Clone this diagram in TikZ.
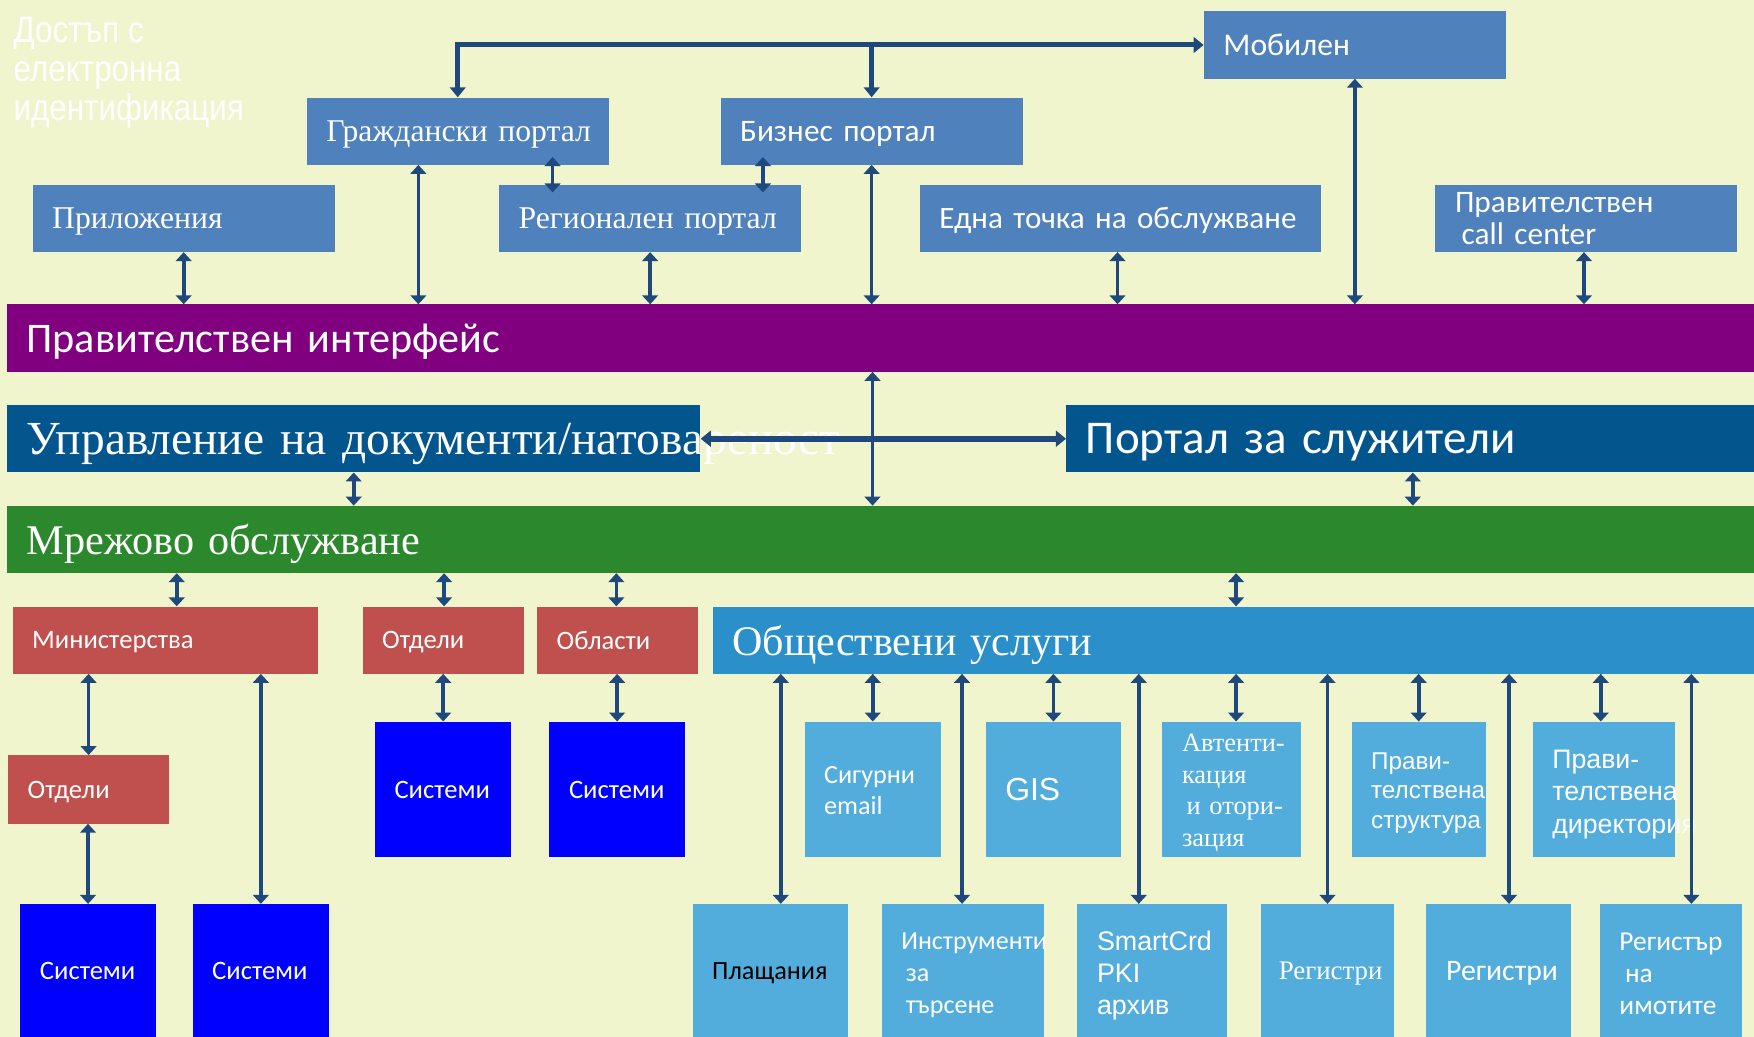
\documentclass[tikz,border=0pt]{standalone}
\usepackage{fontspec}
\setmainfont{Liberation Serif}
\newfontfamily\calibri{Carlito}
\newfontfamily\arialfont{Liberation Sans}
\newfontfamily\narrowfont[FakeStretch=0.85]{Liberation Sans}
\usetikzlibrary{arrows.meta}

\definecolor{bgyellow}{HTML}{F0F5CD}
\definecolor{boxblue}{HTML}{4F81BD}
\definecolor{ifacepurple}{HTML}{800080}
\definecolor{docblue}{HTML}{03558E}
\definecolor{netgreen}{HTML}{2C882C}
\definecolor{boxred}{HTML}{C0504D}
\definecolor{sysblue}{HTML}{0000FF}
\definecolor{pubblue}{HTML}{2B90C9}
\definecolor{lightblue}{HTML}{53ADDC}
\definecolor{linkblue}{HTML}{1F497D}

\tikzset{
  blk/.style={rectangle, anchor=north west, inner xsep=17.5pt, inner ysep=0pt, text depth=0pt, text=white, align=left},
  multi/.style={text depth=, text height=#1},
  smalltip/.tip={Triangle[length=8pt,width=14pt]},
  bigtip/.tip={Triangle[length=9pt,width=14pt]},
  link/.style={draw=linkblue, line width=3.3pt, {smalltip}-{smalltip}},
  bus/.style={draw=linkblue, line width=4.5pt}
}

\begin{document}
\begin{tikzpicture}[x=1pt,y=-1pt]
%Background
\fill[bgyellow] (0,0) rectangle (1568,927);
\useasboundingbox (0,0) rectangle (1568,927);

%Title
\node[anchor=north west, inner sep=0pt, text=white, align=left, font=\narrowfont\fontsize{33}{35}\selectfont] (title) at (12,15) {Достъп с\\електронна\\идентификация};

%Top portals
\node[blk, fill=boxblue, text width=235pt, minimum height=60pt, font=\calibri\fontsize{28.3}{32}\selectfont] (mob) at (1076,10) {Мобилен};
\node[blk, fill=boxblue, text width=235pt, minimum height=60pt, font=\fontsize{28.3}{32}\selectfont] (grazh) at (274,87) {\mbox{Граждански портал}};
\node[blk, fill=boxblue, text width=235pt, minimum height=60pt, font=\calibri\fontsize{28}{32}\selectfont] (biz) at (644,87) {Бизнес портал};
\node[blk, fill=boxblue, text width=235pt, minimum height=60pt, font=\fontsize{28.3}{32}\selectfont] (app) at (29,165) {Приложения};
\node[blk, fill=boxblue, text width=235pt, minimum height=60pt, font=\fontsize{28.3}{32}\selectfont] (reg) at (446,165) {\mbox{Регионален портал}};
\node[blk, fill=boxblue, text width=324pt, minimum height=60pt, font=\calibri\fontsize{27.8}{32}\selectfont] (edna) at (822,165) {\mbox{Една точка на обслужване}};
\node[blk, multi=, fill=boxblue, text width=235pt, minimum height=60pt, font=\calibri\fontsize{28}{29}\selectfont] (callc) at (1283,165) {Правителствен\\\hspace*{6pt}call center};

%Middle layers
\node[blk, fill=ifacepurple, text width=1527pt, minimum height=60pt, font=\calibri\fontsize{37.7}{40}\selectfont] (iface) at (6,272) {Правителствен интерфейс};
\node[blk, fill=docblue, text width=585pt, minimum height=60pt, font=\fontsize{42.4}{46}\selectfont] (doc) at (6,362) {\mbox{Управление на документи/натовареност}};
\node[blk, fill=docblue, text width=580pt, minimum height=60pt, font=\calibri\fontsize{42}{44}\selectfont] (portal) at (953,362) {Портал за служители};
\node[blk, fill=netgreen, text width=1527pt, minimum height=60pt, font=\fontsize{37.8}{44}\selectfont] (mrezha) at (6,452) {Мрежово обслужване};

%Administration
\node[blk, fill=boxred, text width=238pt, minimum height=60pt, font=\calibri\fontsize{23.8}{25}\selectfont] (min) at (11,542) {Министерства};
\node[blk, fill=boxred, text width=109pt, minimum height=60pt, font=\calibri\fontsize{23.8}{25}\selectfont] (otd) at (324,542) {Отдели};
\node[blk, fill=boxred, text width=109pt, minimum height=60pt, font=\calibri\fontsize{23.8}{25}\selectfont] (obl) at (480,542) {Области};
\node[blk, fill=boxred, text width=109pt, minimum height=61pt, font=\calibri\fontsize{23.8}{25}\selectfont] (minotd) at (7,675) {Отдели};
\node[blk, fill=sysblue, text width=87pt, minimum height=121pt, font=\calibri\fontsize{23.8}{25}\selectfont] (otdsys) at (335,645) {Системи};
\node[blk, fill=sysblue, text width=86pt, minimum height=121pt, font=\calibri\fontsize{23.8}{25}\selectfont] (oblsys) at (491,645) {Системи};
\node[blk, fill=sysblue, text width=86pt, minimum height=119pt, font=\calibri\fontsize{23.8}{25}\selectfont] (minotdsys) at (18,808) {Системи};
\node[blk, fill=sysblue, text width=87pt, minimum height=119pt, font=\calibri\fontsize{23.8}{25}\selectfont] (minsys) at (172,808) {Системи};

%Public services
\node[blk, fill=pubblue, text width=896pt, minimum height=60pt, font=\fontsize{37.6}{44}\selectfont] (obsht) at (637,542) {Обществени услуги};
\node[blk, multi=17.4pt, fill=lightblue, text width=87pt, minimum height=121pt, font=\calibri\fontsize{23.4}{28}\selectfont] (email) at (719,645) {Сигурни\\email};
\node[blk, fill=lightblue, text width=86pt, minimum height=121pt, font=\arialfont\fontsize{28.5}{32}\selectfont] (gis) at (881,645) {GIS};
\node[blk, multi=21.6pt, fill=lightblue, text width=89pt, minimum height=121pt, font=\fontsize{23.6}{28.5}\selectfont] (avt) at (1039,645) {\mbox{Автенти-}\\\mbox{кация}\\\mbox{\hspace*{4pt}и отори-}\\\mbox{зация}};
\node[blk, multi=21.5pt, fill=lightblue, text width=85pt, minimum height=121pt, font=\arialfont\fontsize{21.7}{26}\selectfont] (strukt) at (1208,645) {\mbox{Прави-}\\\mbox{телствена}\\\mbox{структура}};
\node[blk, multi=25pt, fill=lightblue, text width=92pt, minimum height=121pt, font=\arialfont\fontsize{23.9}{29}\selectfont] (dir) at (1370,645) {\mbox{Прави-}\\\mbox{телствена}\\\mbox{директория}};
\node[blk, fill=lightblue, text width=104pt, minimum height=119pt, text=black, font=\calibri\fontsize{23.5}{25}\selectfont] (plasht) at (619,808) {Плащания};
\node[blk, multi=23pt, fill=lightblue, text width=110pt, minimum height=119pt, font=\calibri\fontsize{23.3}{28.5}\selectfont] (instr) at (788,808) {\mbox{Инструменти}\\\mbox{\hspace*{4pt}за}\\\mbox{\hspace*{4pt}търсене}};
\node[blk, multi=25.5pt, fill=lightblue, text width=99pt, minimum height=119pt, font=\arialfont\fontsize{24}{28.5}\selectfont] (smart) at (963,808) {\mbox{SmartCrd}\\PKI\\\mbox{архив}};
\node[blk, fill=lightblue, text width=87pt, minimum height=119pt, inner xsep=16pt, font=\fontsize{24}{28}\selectfont] (regi) at (1127,808) {Регистри};
\node[blk, fill=lightblue, text width=94pt, minimum height=119pt, font=\calibri\fontsize{26.6}{30}\selectfont] (regii) at (1275,808) {Регистри};
\node[blk, multi=21.8pt, fill=lightblue, text width=92pt, minimum height=119pt, font=\calibri\fontsize{24.5}{28.5}\selectfont] (imot) at (1430,808) {\mbox{Регистър}\\\mbox{\hspace*{5pt}на}\\\mbox{имотите}};

%Portal links
\draw[bus, {bigtip}-{bigtip}] (grazh.north) |- (mob.west);
\draw[bus, -{bigtip}] (biz.north |- mob.west) -- (biz.north);
\draw[link, shorten <=-7pt, shorten >=-7pt] (494,0 |- grazh.south) -- (494,0 |- reg.north);
\draw[link, shorten <=-7pt, shorten >=-7pt] (682,0 |- biz.south) -- (682,0 |- reg.north);
\draw[link] (app.south) -- (app.south |- iface.north);
\draw[link] (374,0 |- grazh.south) -- (374,0 |- iface.north);
\draw[link] (reg.south) -- (reg.south |- iface.north);
\draw[link] (biz.south) -- (biz.south |- iface.north);
\draw[link] (999,0 |- edna.south) -- (999,0 |- iface.north);
\draw[link] (mob.south) -- (mob.south |- iface.north);
\draw[link] (1416,0 |- callc.south) -- (1416,0 |- iface.north);

%Layer links
\draw[link] (780,0 |- iface.south) -- (780,0 |- mrezha.north);
\draw[bus, line width=5.5pt, {bigtip}-{bigtip}] (doc.east) -- (portal.west);
\draw[link] (doc.south) -- (doc.south |- mrezha.north);
\draw[link] (1263,0 |- portal.south) -- (1263,0 |- mrezha.north);
\draw[link] (158,0 |- mrezha.south) -- (158,0 |- min.north);
\draw[link] (397,0 |- mrezha.south) -- (397,0 |- otd.north);
\draw[link] (551,0 |- mrezha.south) -- (551,0 |- obl.north);
\draw[link] (1105,0 |- mrezha.south) -- (1105,0 |- obsht.north);

%Administration links
\draw[link] (minotd.north |- min.south) -- (minotd.north);
\draw[link] (minsys.north |- min.south) -- (minsys.north);
\draw[link] (minotdsys.north |- minotd.south) -- (minotdsys.north);
\draw[link] (otdsys.north |- otd.south) -- (otdsys.north);
\draw[link] (oblsys.north |- obl.south) -- (oblsys.north);

%Public service links
\draw[link] (698,0 |- obsht.south) -- (698,0 |- plasht.north);
\draw[link] (email.north |- obsht.south) -- (email.north);
\draw[link] (860,0 |- obsht.south) -- (860,0 |- instr.north);
\draw[link] (gis.north |- obsht.south) -- (gis.north);
\draw[link] (1018,0 |- obsht.south) -- (1018,0 |- smart.north);
\draw[link] (1105,0 |- obsht.south) -- (1105,0 |- avt.north);
\draw[link] (regi.north |- obsht.south) -- (regi.north);
\draw[link] (strukt.north |- obsht.south) -- (strukt.north);
\draw[link] (1349,0 |- obsht.south) -- (1349,0 |- regii.north);
\draw[link] (1431,0 |- obsht.south) -- (1431,0 |- dir.north);
\draw[link] (1512,0 |- obsht.south) -- (1512,0 |- imot.north);
\end{tikzpicture}
\end{document}
